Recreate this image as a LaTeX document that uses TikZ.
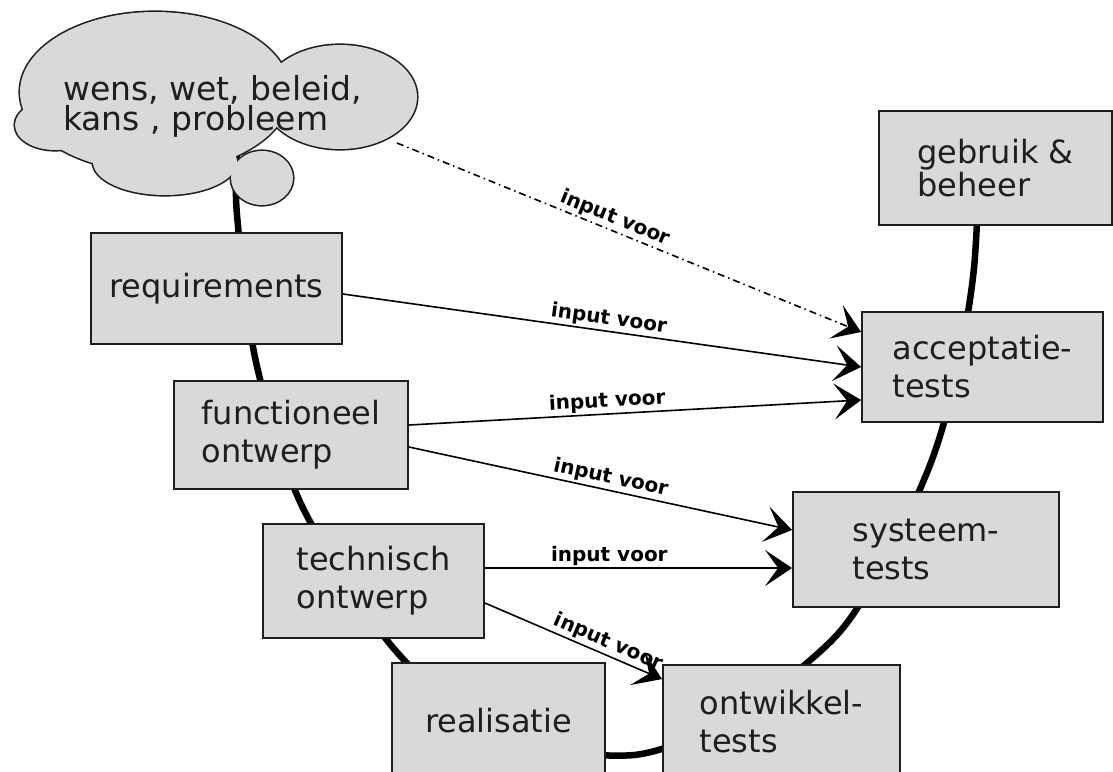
\documentclass[tikz,border=0pt]{standalone}
\usepackage{fontspec}
\setmainfont{DejaVu Sans}
\usetikzlibrary{arrows.meta,calc}
\definecolor{boxfill}{RGB}{217,217,217}
\definecolor{ink}{RGB}{30,30,30}
\begin{document}
\begin{tikzpicture}[x=1pt,y=-1pt,
  box/.style={draw=ink, line width=1.8pt, fill=boxfill, inner sep=0pt, align=left, text=ink, font=\fontsize{32}{38}\selectfont},
  vline/.style={line width=6.5pt, black},
  inarrow/.style={line width=1.6pt, draw=black, -{Stealth[length=27pt,width=36pt,inset=13pt]}},
  dashdotted/.style={dash pattern=on 7pt off 4pt on 1.5pt off 4pt},
  lbl/.style={font=\fontsize{20}{24}\selectfont\bfseries, sloped, above, inner sep=2pt, text=black, solid}]

\useasboundingbox (0,0) rectangle (1113,771);
\clip (0,0) rectangle (1113,771);

% the V line, behind everything
\draw[vline] plot[smooth, tension=0.5] coordinates {(237,150) (237,215) (256,362) (302,506) (395,650) (500,735) (634,755) (740,712) (836,636) (891,550) (933,457) (958,367) (974,268) (980,150)};

% cloud: union of ellipses
\begin{scope}
  \foreach \cx/\cy/\rx/\ry in {155/92/135/80, 340/97/77/52, 55/125/40/25, 165/162/72/33, 262/178/31/27}
    \draw[draw=ink, line width=3.2pt] (\cx,\cy) ellipse [x radius=\rx pt, y radius=\ry pt];
  \foreach \cx/\cy/\rx/\ry in {155/92/135/80, 340/97/77/52, 55/125/40/25, 165/162/72/33, 262/178/31/27}
    \fill[boxfill] (\cx,\cy) ellipse [x radius=\rx pt, y radius=\ry pt];
\end{scope}
\node[anchor=base west, inner sep=0pt, align=left, text=ink, font=\fontsize{33}{28}\selectfont] (cloudtxt) at (63,130) {wens, wet, beleid,\\kans , probleem};
\coordinate (cl) at (397,143);

% boxes
\node[box, minimum width=251pt, minimum height=111pt] (req) at (216.5,288.5) {requirements};
\node[box, minimum width=234pt, minimum height=108pt] (func) at (291,435) {functioneel\\ontwerp};
\node[box, minimum width=221pt, minimum height=114pt] (tech) at (373.5,581) {technisch\\ontwerp};
\node[box, minimum width=213pt, minimum height=116pt] (real) at (498.5,721) {realisatie};
\node[box, minimum width=237pt, minimum height=114pt] (ont) at (781.5,722) {ontwikkel-\\tests};
\node[box, minimum width=266pt, minimum height=115pt] (sys) at (926,549.5) {systeem-\\tests};
\node[box, minimum width=241pt, minimum height=110pt] (acc) at (982.5,367) {acceptatie-\\tests};
\node[box, minimum width=233pt, minimum height=114pt, font=\fontsize{32}{33}\selectfont] (geb) at (995.5,168) {gebruik \&\\beheer};

% arrows
\draw[inarrow, dashdotted] (cl) -- node[lbl, pos=0.46] {input voor} ($(acc.west)+(0,-35)$);
\draw[inarrow] ($(req.east)+(0,5.5)$) -- node[lbl, pos=0.51] {input voor} (acc.west);
\draw[inarrow] ($(func.east)+(0,-10)$) -- node[lbl, pos=0.44] {input voor} ($(acc.west)+(0,33)$);
\draw[inarrow] ($(func.east)+(0,12)$) -- node[lbl, pos=0.52] {input voor} ($(sys.west)+(0,-19.5)$);
\draw[inarrow] ($(tech.east)+(0,-13)$) -- node[lbl, pos=0.405] {input voor} ($(sys.west)+(0,18.5)$);
\draw[inarrow] ($(tech.east)+(0,22)$) -- node[lbl, pos=0.67] {input voor} ($(ont.north west)+(0,15)$);
\end{tikzpicture}
\end{document}
